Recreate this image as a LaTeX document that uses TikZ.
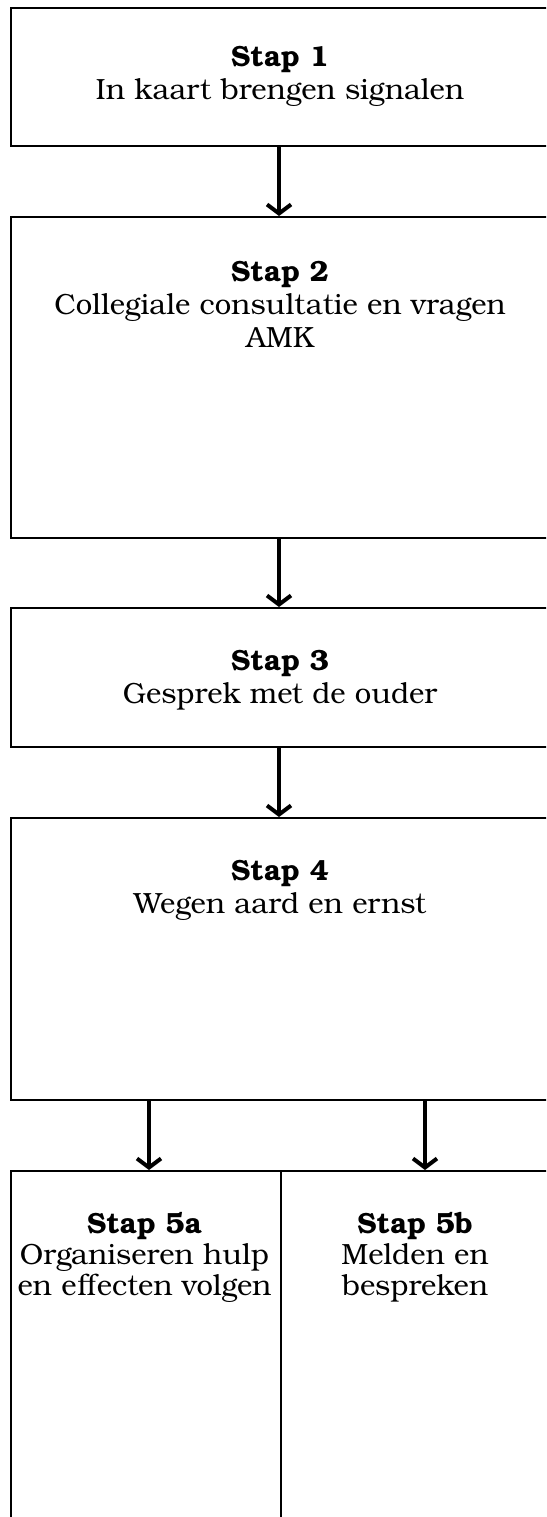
\documentclass[tikz,border=0pt]{standalone}
\usepackage{fontspec}
\setmainfont{TeX Gyre Bonum}
\usetikzlibrary{arrows.meta}
\begin{document}
\begin{tikzpicture}[x=1pt,y=-1pt,
  box/.style={draw, line width=1.8pt, rectangle, anchor=north west, inner sep=0pt},
  txt/.style={align=center, font=\fontsize{29.2}{33}\selectfont, anchor=base, inner sep=0pt},
  txtb/.style={txt, font=\fontsize{29.2}{31}\selectfont},
  flow/.style={line width=4pt, -{Straight Barb[length=9pt,width=24pt]}}]
\useasboundingbox (0,0) rectangle (546,1517);
\clip (0,0) rectangle (546,1517);
\node[box, minimum width=540pt, minimum height=138pt] (b1) at (10,7) {};
\node[box, minimum width=540pt, minimum height=321pt] (b2) at (10,216) {};
\node[box, minimum width=540pt, minimum height=139pt] (b3) at (10,607) {};
\node[box, minimum width=540pt, minimum height=282pt] (b4) at (10,817) {};
\node[box, minimum width=270pt, minimum height=420pt] (b5a) at (10,1170) {};
\node[box, minimum width=300pt, minimum height=420pt] (b5b) at (280,1170) {};
\node[txt] (t1) at (280,100) {\textbf{Stap 1}\\In kaart brengen signalen};
\node[txt] (t2) at (280,347) {\textbf{Stap 2}\\Collegiale consultatie en vragen\\AMK};
\node[txt] (t3) at (280,703) {\textbf{Stap 3}\\Gesprek met de ouder};
\node[txt] (t4) at (280,913) {\textbf{Stap 4}\\Wegen aard en ernst};
\node[txtb] (t5a) at (144.5,1295) {\textbf{Stap 5a}\\Organiseren hulp\\en effecten volgen};
\node[txtb] (t5b) at (415,1295) {\textbf{Stap 5b}\\Melden en\\bespreken};
\coordinate (cm) at (279,0);
\coordinate (c5a) at (149,0);
\coordinate (c5b) at (425,0);
\draw[flow] (b1.south -| cm) -- (b2.north -| cm);
\draw[flow] (b2.south -| cm) -- (b3.north -| cm);
\draw[flow] (b3.south -| cm) -- (b4.north -| cm);
\draw[flow] (b4.south -| c5a) -- (b5a.north -| c5a);
\draw[flow] (b4.south -| c5b) -- (b5b.north -| c5b);
\end{tikzpicture}
\end{document}
